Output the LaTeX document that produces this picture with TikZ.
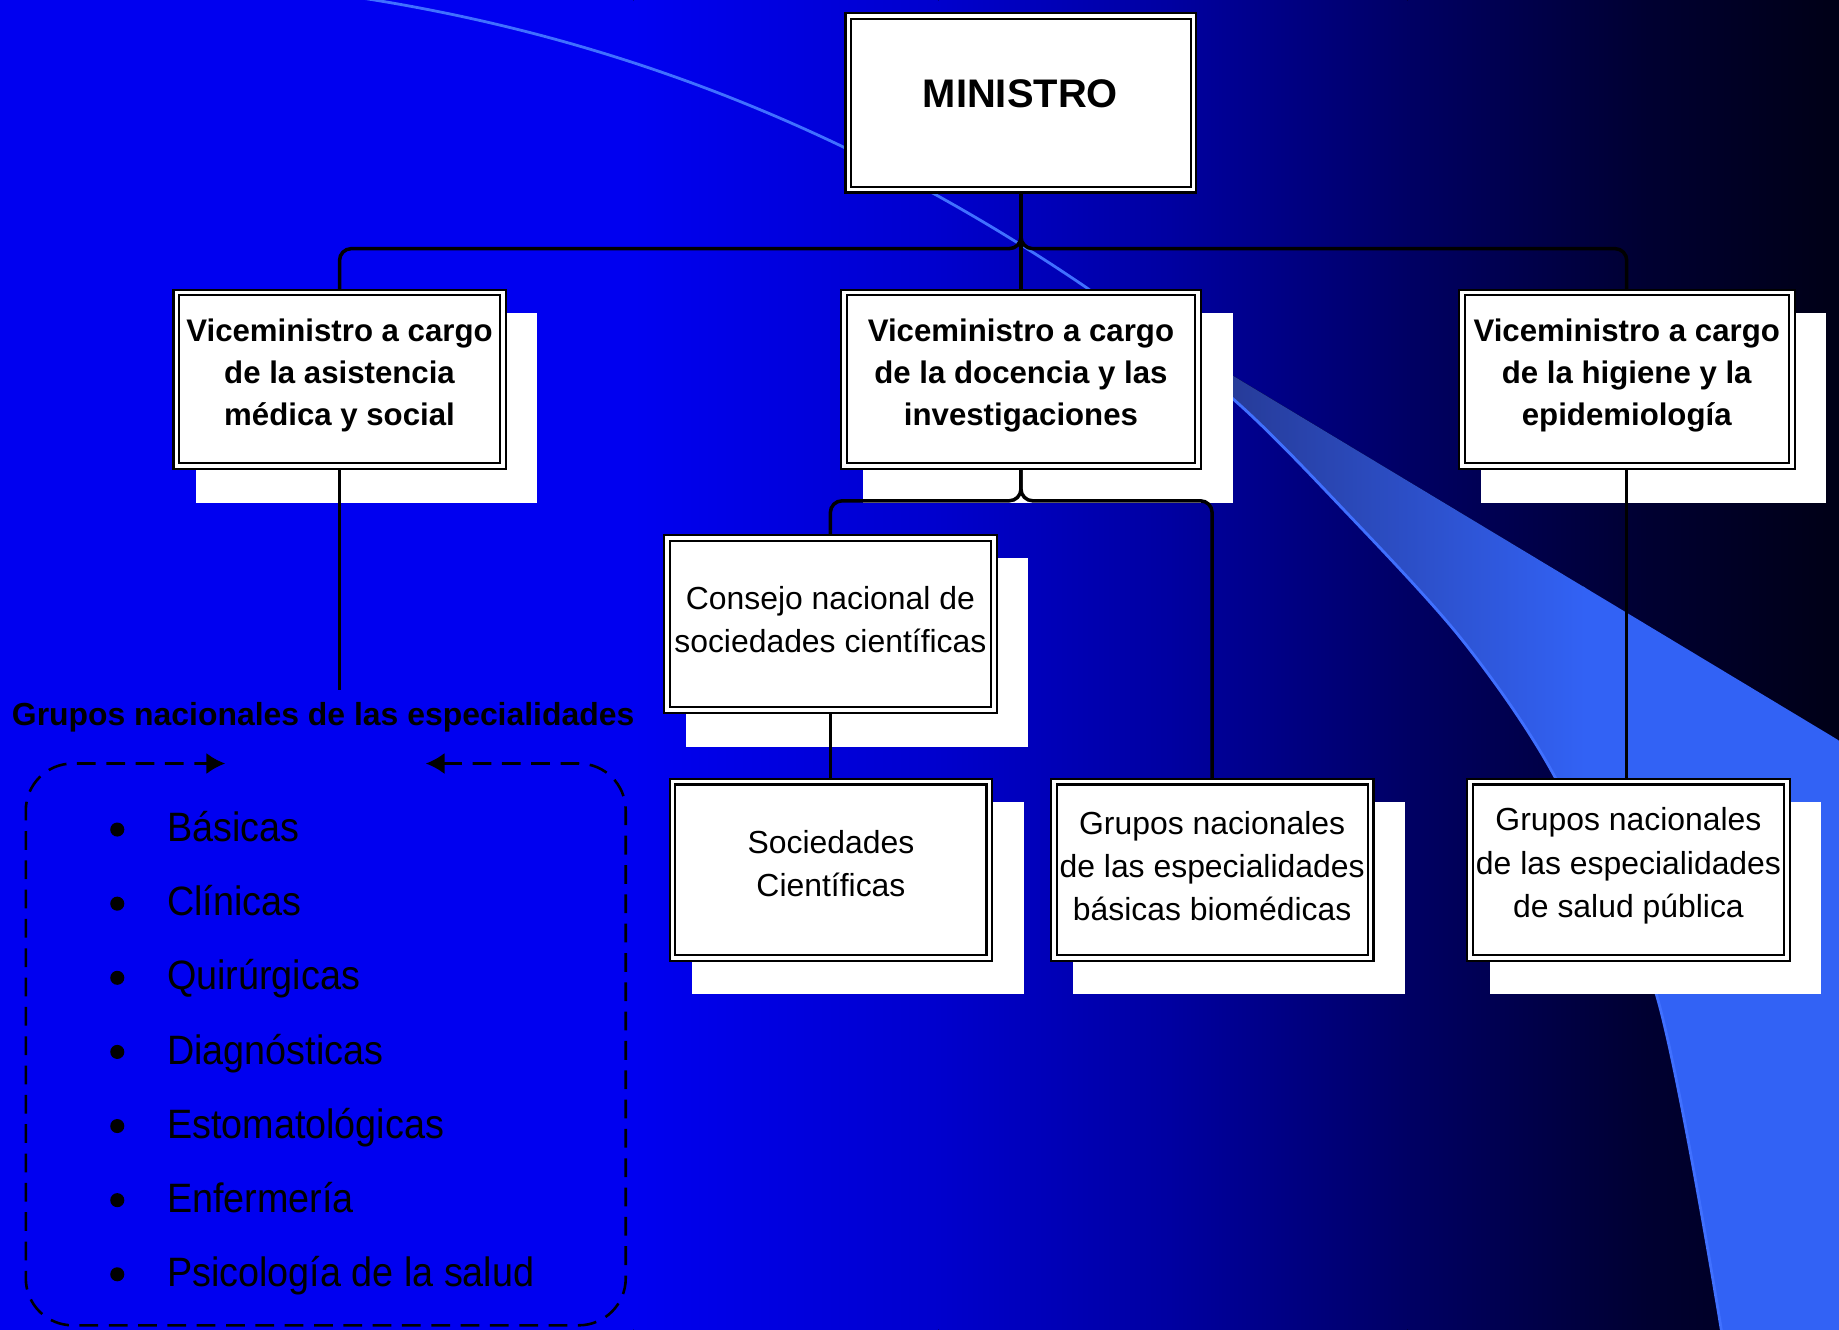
\documentclass[tikz,border=0pt]{standalone}
\usepackage{fontspec}
\setmainfont{Liberation Sans}
\newfontfamily\listfont[FakeStretch=0.92]{Liberation Sans}
\usetikzlibrary{arrows.meta,calc}
\pgfdeclarelayer{bgl}
\pgfdeclarelayer{shl}
\pgfdeclarelayer{cnl}
\pgfsetlayers{bgl,shl,cnl,main}
\definecolor{bgA}{RGB}{0,0,240}
\definecolor{bgB}{RGB}{0,0,205}
\definecolor{bgC}{RGB}{0,0,160}
\definecolor{bgD}{RGB}{0,0,100}
\definecolor{bgE}{RGB}{0,0,50}
\definecolor{bgF}{RGB}{0,0,22}
\definecolor{wA}{RGB}{38,58,150}
\definecolor{wB}{RGB}{50,98,245}
\definecolor{swl}{RGB}{64,112,255}
\newcommand\shadowof[1]{\fill[white] ([shift={(17.6,18.6)}]#1.north west) rectangle ([shift={(28.4,30.4)}]#1.south east);}
\begin{document}
\begin{tikzpicture}[x=0.5pt,y=-0.5pt,
  obox/.style={draw=black, line width=0.9pt, double=white, double distance=1.6pt, fill=white, inner sep=0pt},
  conn/.style={draw=black, line width=1.5pt, rounded corners=5pt},
  vtext/.style={align=center, inner sep=0pt, font=\bfseries\fontsize{13.3}{18}\selectfont},
  rtext/.style={align=center, inner sep=0pt, font=\fontsize{13.6}{18.5}\selectfont},
  litem/.style={anchor=base west, inner sep=0pt, font=\listfont\fontsize{17.5}{20}\selectfont},
  bul/.style={circle, fill=black, inner sep=0pt, minimum size=6pt},
  dframe/.style={draw=black, line width=1.1pt, dash pattern=on 8pt off 4.5pt, rounded corners=20pt, {Latex[length=8pt,width=9pt]}-{Latex[length=8pt,width=9pt]}}
]
\useasboundingbox (0,0) rectangle (1568,1134);

% ---------- boxes ----------
\node[obox, minimum width=147.1pt, minimum height=74.1pt] (min) at (870.5,87.5) {};
\node[obox, minimum width=139.1pt, minimum height=74.1pt] (vl) at (289.5,323.5) {};
\node[obox, minimum width=151.1pt, minimum height=74.1pt] (vm) at (870.5,323.5) {};
\node[obox, minimum width=140.6pt, minimum height=74.1pt] (vr) at (1387,323.5) {};
\node[obox, minimum width=139.6pt, minimum height=73.6pt] (con) at (708,532) {};
\node[obox, minimum width=135.1pt, minimum height=75.1pt] (soc) at (708.5,741.5) {};
\node[obox, minimum width=135.1pt, minimum height=75.1pt] (gb) at (1033.5,741.5) {};
\node[obox, minimum width=135.1pt, minimum height=75.1pt] (gs) at (1388.5,741.5) {};

% ---------- texts ----------
\node[inner sep=0pt, font=\bfseries\fontsize{17}{20}\selectfont] (mint) at (870,80) {MINISTRO};
\node[vtext] (vlt) at (289.5,320) {Viceministro a cargo\\de la asistencia\\médica y social};
\node[vtext] (vmt) at (870.5,320) {Viceministro a cargo\\de la docencia y las\\investigaciones};
\node[vtext] (vrt) at (1387,320) {Viceministro a cargo\\de la higiene y la\\epidemiología};
\node[rtext] (cont) at (708,528.5) {Consejo nacional de\\sociedades científicas};
\node[rtext] (soct) at (708.5,736.5) {Sociedades\\Científicas};
\node[rtext] (gbt) at (1033.5,738.5) {Grupos nacionales\\de las especialidades\\básicas biomédicas};
\node[rtext] (gst) at (1388.5,738.5) {Grupos nacionales\\de las especialidades\\de salud pública};

\node[inner sep=5pt, font=\bfseries\fontsize{13.6}{16}\selectfont] (gtitle) at (275.5,611.5) {Grupos nacionales de las especialidades};

% ---------- list ----------
\foreach \t [count=\k from 0] in {Básicas,Clínicas,Quirúrgicas,Diagnósticas,Estomatológicas,Enfermería,Psicología de la salud}{
  \node[bul] (b\k) at (100,{707.3+63.2*\k}) {};
  \node[litem] (it\k) at (142,{717.6+63.2*\k}) {\t};
}
\draw[dframe] (363,651) -- (533.5,651) -- (533.5,1130) -- (22,1130) -- (22,651) -- (192,651);

% ---------- connectors ----------
\begin{pgfonlayer}{cnl}
\coordinate (j1) at (870.5,212);
\coordinate (j2) at (870.5,427);
\draw[conn] (vl.north) |- (j1) -- (min.south);
\draw[conn] (vr.north) |- (j1) -- (min.south);
\draw[conn] (min.south) -- (vm.north);
\draw[conn] (con.north) |- (j2) -- (vm.south);
\draw[conn] (gb.north) |- (j2) -- (vm.south);
\draw[conn] (con.south) -- (con.south |- soc.north);
\draw[conn] (vr.south) -- (vr.south |- gs.north);
\draw[conn] (vl.south) -- (vl.south |- gtitle.north);
\end{pgfonlayer}

% ---------- shadows ----------
\begin{pgfonlayer}{shl}
\shadowof{vl}\shadowof{vm}\shadowof{vr}\shadowof{con}\shadowof{soc}\shadowof{gb}\shadowof{gs}
\end{pgfonlayer}

% ---------- background ----------
\begin{pgfonlayer}{bgl}
\fill[bgA] (-1,-1) rectangle (541,1135);
\fill[left color=bgA, right color=bgB] (540,-1) rectangle (801,1135);
\fill[left color=bgB, right color=bgC] (800,-1) rectangle (1001,1135);
\fill[left color=bgC, right color=bgD] (1000,-1) rectangle (1201,1135);
\fill[left color=bgD, right color=bgE] (1200,-1) rectangle (1401,1135);
\fill[left color=bgE, right color=bgF] (1400,-1) rectangle (1569,1135);
\begin{scope}
\clip (926,245) -- (1569,632) -- (1569,1136) -- (1468,1136)
  -- plot[smooth] coordinates {(1468,1136) (1412,847) (1325,661) (1247,546) (1148,437) (1050,339) (926,245)} -- cycle;
\fill[left color=wA, right color=wB] (1040,230) rectangle (1352,1136);
\fill[wB] (1350,230) rectangle (1570,1136);
\end{scope}
\draw[swl, line width=1.2pt] (300,-3) .. controls (520,30) and (726,109) .. (926,245)
  -- plot[smooth] coordinates {(926,245) (1050,339) (1148,437) (1247,546) (1325,661) (1412,847) (1468,1136)};
\end{pgfonlayer}
\end{tikzpicture}
\end{document}
